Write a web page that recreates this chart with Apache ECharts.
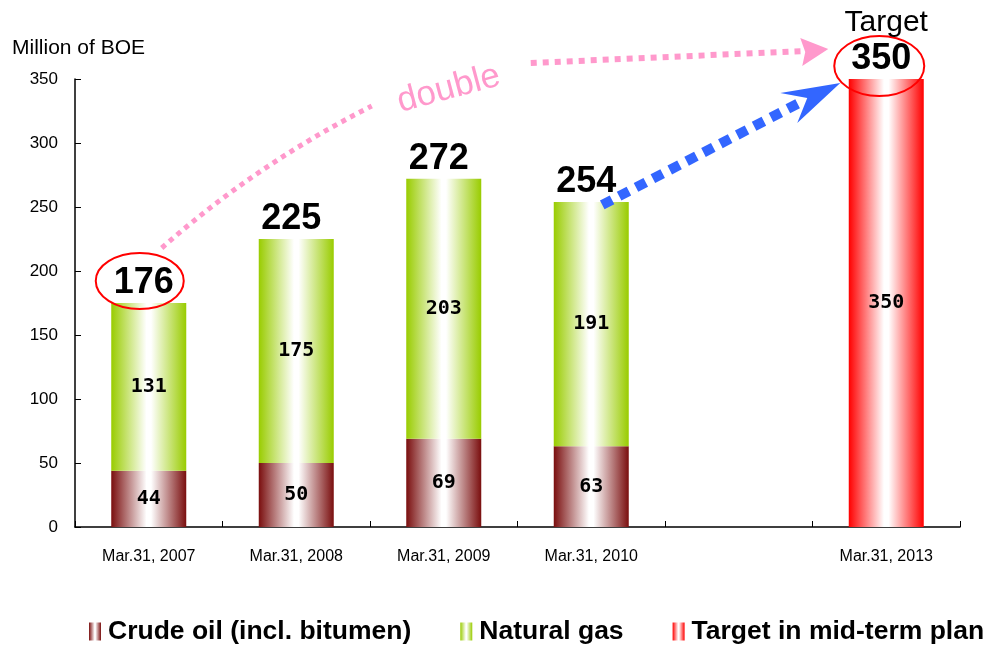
<!DOCTYPE html>
<html>
<head>
<meta charset="utf-8">
<script src="https://cdn.jsdelivr.net/npm/echarts@6/dist/echarts.min.js"></script>
<style>
  html, body { margin: 0; padding: 0; background: #fff; }
  #chart { width: 990px; height: 645px; }
</style>
</head>
<body>
<div id="chart"></div>
<script>
// Reserves by fiscal year end (million barrels of oil equivalent)
const categories = ['Mar.31, 2007', 'Mar.31, 2008', 'Mar.31, 2009', 'Mar.31, 2010', '', 'Mar.31, 2013'];
const crudeOil   = [44, 50, 69, 63, '-', '-'];
const naturalGas = [131, 175, 203, 191, '-', '-'];
const targetPlan = ['-', '-', '-', '-', '-', 350];
const totalLabels = ['176', '225', '272', '254', '', '350'];
const yTicks = { min: 0, max: 350, interval: 50 };

// Stack heights used to place the total labels
const totals = categories.map((_, i) => {
  const parts = [crudeOil[i], naturalGas[i], targetPlan[i]].filter(v => v !== '-');
  return parts.length ? parts.reduce((a, b) => a + b, 0) : '-';
});

function sideGradient(edge) {
  return new echarts.graphic.LinearGradient(0, 0, 1, 0, [
    { offset: 0, color: edge },
    { offset: 0.47, color: '#ffffff' },
    { offset: 0.53, color: '#ffffff' },
    { offset: 1, color: edge }
  ]);
}

const innerLabel = {
  show: true,
  position: 'inside',
  color: '#000',
  fontFamily: 'DejaVu Sans Mono',
  fontWeight: 'bold',
  fontSize: 20,
  formatter: p => p.value
};

const chart = echarts.init(document.getElementById('chart'), null, { renderer: 'canvas' });

chart.setOption({
  animation: false,
  backgroundColor: '#ffffff',
  title: {
    text: 'Million of BOE',
    left: 7, top: 33,
    textStyle: { fontFamily: 'Liberation Sans', fontWeight: 'normal', fontSize: 21, color: '#000' }
  },
  grid: { left: 75, right: 30, top: 79, bottom: 118, containLabel: false },
  legend: {
    data: ['Crude oil (incl. bitumen)', 'Natural gas', 'Target in mid-term plan'],
    left: 84, top: 613,
    itemWidth: 12, itemHeight: 18, itemGap: 49,
    icon: 'rect',
    textStyle: { fontFamily: 'Liberation Sans', fontWeight: 'bold', fontSize: 26.5, color: '#000', padding: [0, 0, 0, 2] }
  },
  xAxis: {
    type: 'category',
    data: categories,
    axisLine: { lineStyle: { color: '#000', width: 1.5 } },
    axisTick: { show: true, inside: true, length: 6, lineStyle: { color: '#000' } },
    axisLabel: { margin: 22, color: '#000', fontFamily: 'Liberation Sans', fontSize: 16, interval: 0 }
  },
  yAxis: {
    type: 'value',
    min: yTicks.min, max: yTicks.max, interval: yTicks.interval,
    splitLine: { show: false },
    axisLine: { show: true, lineStyle: { color: '#000', width: 1.5 } },
    axisTick: { show: true, inside: true, length: 6, lineStyle: { color: '#000' } },
    axisLabel: { margin: 17, color: '#000', fontFamily: 'Liberation Sans', fontSize: 17 }
  },
  series: [
    {
      name: 'Crude oil (incl. bitumen)', type: 'bar', stack: 'total', barWidth: 75,
      data: crudeOil,
      itemStyle: { color: sideGradient('#7a0e0e') },
      label: innerLabel
    },
    {
      name: 'Natural gas', type: 'bar', stack: 'total', barWidth: 75,
      data: naturalGas,
      itemStyle: { color: sideGradient('#99cc00') },
      label: innerLabel
    },
    {
      name: 'Target in mid-term plan', type: 'bar', stack: 'total', barWidth: 75,
      data: targetPlan,
      itemStyle: { color: sideGradient('#ff0000') },
      label: innerLabel
    },
    {
      name: 'totals', type: 'scatter', symbolSize: 0, silent: true, z: 5,
      data: totals,
      itemStyle: { opacity: 1 },
      label: {
        show: true, position: 'top', distance: 2, offset: [-5, 0],
        color: '#000', fontFamily: 'Liberation Sans', fontWeight: 'bold', fontSize: 36,
        formatter: p => totalLabels[p.dataIndex]
      }
    }
  ]
});

// Annotations anchored to the bar tops
function px(catIndex, value) {
  return chart.convertToPixel({ xAxisIndex: 0, yAxisIndex: 0 }, [catIndex, value]);
}
const first = px(0, totals[0]);
const last3 = px(3, totals[3]);
const goal = px(5, totals[5]);

const pink = '#ff99cc';
const blue = '#3366ff';

const pinkStart = [first[0] + 13, first[1] - 55];
const pinkEnd = [first[0] + 223, first[1] - 197];
const pinkCtrl = [first[0] + 108, first[1] - 139];

chart.setOption({
  graphic: [
    // circled totals
    { type: 'ellipse', z: 100, shape: { cx: first[0] - 9, cy: first[1] - 22, rx: 44, ry: 28 },
      style: { fill: 'none', stroke: '#ff0000', lineWidth: 2 } },
    { type: 'ellipse', z: 100, shape: { cx: goal[0] - 7, cy: goal[1] - 13, rx: 45, ry: 30 },
      style: { fill: 'none', stroke: '#ff0000', lineWidth: 2 } },
    { type: 'text', z: 100, x: goal[0], y: goal[1] - 56,
      style: { text: 'Target', fontFamily: 'Liberation Sans', fontSize: 30, fill: '#000', align: 'center', verticalAlign: 'middle' } },
    // "double" dotted curve
    { type: 'bezierCurve', z: 100,
      shape: { x1: pinkStart[0], y1: pinkStart[1], x2: pinkEnd[0], y2: pinkEnd[1], cpx1: pinkCtrl[0], cpy1: pinkCtrl[1] },
      style: { fill: 'none', stroke: pink, lineWidth: 5, lineDash: [5, 5] } },
    { type: 'text', z: 100, x: first[0] + 300, y: first[1] - 214, rotation: 15 * Math.PI / 180,
      style: { text: 'double', fontFamily: 'Liberation Sans', fontSize: 35, fill: pink, align: 'center', verticalAlign: 'middle' } },
    { type: 'line', z: 100,
      shape: { x1: first[0] + 382, y1: first[1] - 240, x2: goal[0] - 82, y2: goal[1] - 28 },
      style: { stroke: pink, lineWidth: 6, lineDash: [6, 6] } },
    { type: 'polygon', z: 100,
      shape: { points: [[goal[0] - 58, goal[1] - 30], [goal[0] - 86, goal[1] - 41], [goal[0] - 81, goal[1] - 27], [goal[0] - 84, goal[1] - 13]] },
      style: { fill: pink } },
    // blue dashed arrow toward the target
    { type: 'line', z: 100,
      shape: { x1: last3[0] + 11, y1: last3[1] + 3, x2: last3[0] + 208, y2: last3[1] - 99 },
      style: { stroke: blue, lineWidth: 10, lineDash: [11, 8] } },
    { type: 'polygon', z: 100,
      shape: { points: [[goal[0] - 46, goal[1] + 4], [goal[0] - 106, goal[1] + 14], [goal[0] - 79, goal[1] + 19], [goal[0] - 89, goal[1] + 44]] },
      style: { fill: blue } }
  ]
});
</script>
</body>
</html>
